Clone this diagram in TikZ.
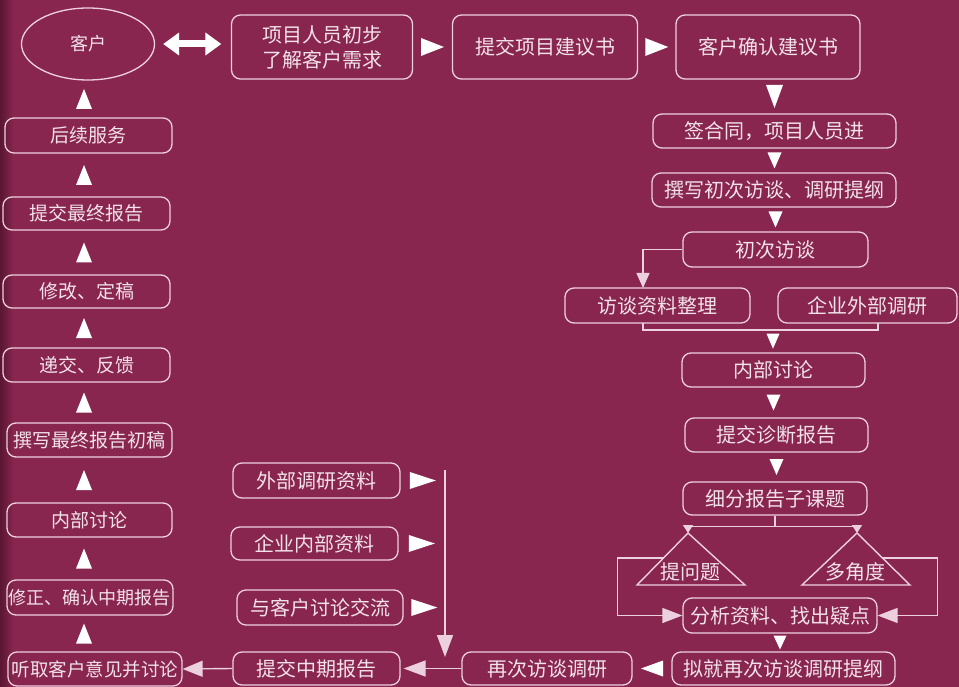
\documentclass[tikz,border=0pt]{standalone}
\usepackage{fontspec}
\setmainfont{Noto Sans CJK SC}
\usetikzlibrary{arrows.meta,decorations.markings,shapes.geometric,calc}
\definecolor{bg}{RGB}{137,38,80}
\definecolor{bgd}{RGB}{90,22,50}
\definecolor{fg}{RGB}{242,226,234}
\definecolor{bd}{RGB}{236,208,222}
\begin{document}
\begin{tikzpicture}[x=1pt,y=-1pt,
  box/.style={draw=bd, rounded corners=9pt, line width=1.3pt, inner sep=0pt,
    text=fg, font=\fontsize{20}{25}\selectfont, align=center},
  bx/.style 2 args={box, minimum width=#1pt, minimum height=#2pt},
  lc/.style={font=\fontsize{19}{22}\selectfont},
  ln/.style={draw=bd, line width=1.4pt},
  mtri/.style 2 args={decoration={markings, mark=at position 0.5 with
    {\fill[white] ({-#1*0.5pt},{-#2*0.5pt}) -- ({#1*0.5pt},0pt) -- ({-#1*0.5pt},{#2*0.5pt}) -- cycle;}},
    postaction={decorate}},
  tlabel/.style={text=fg, font=\fontsize{20}{24}\selectfont, inner sep=0pt}
]
\useasboundingbox (0,0) rectangle (959,687);
\fill[bg] (0,0) rectangle (959,687);
\shade[left color=bgd, right color=bg] (0,0) rectangle (14,687);

% top row
\node[draw=bd, line width=1.3pt, ellipse, minimum width=133pt, minimum height=72pt,
  inner sep=0pt, text=fg, font=\fontsize{18}{22}\selectfont] (kehu) at (88,44) {客户};
\node[bx={181}{64}] (xm) at (322,47) {项目人员初步\\了解客户需求};
\node[bx={185}{64}] (tj) at (545,47) {提交项目建议书};
\node[bx={184}{64}] (qr) at (768,47) {客户确认建议书};

% right column
\node[bx={243}{34}] (qht) at (774.5,131) {签合同，项目人员进};
\node[bx={244}{34}] (zx) at (774,190) {撰写初次访谈、调研提纲};
\node[bx={185}{35}] (cf) at (775.5,249.5) {初次访谈};
\node[bx={185}{35}] (fz) at (657.5,305.5) {访谈资料整理};
\node[bx={179}{35}] (qw) at (867.5,305.5) {企业外部调研};
\node[bx={183}{34}] (nb) at (773.5,370) {内部讨论};
\node[bx={183}{34}] (zd) at (776.5,435) {提交诊断报告};
\node[bx={184}{33}] (xf) at (775,498.5) {细分报告子课题};
\node[bx={194}{35}] (fx) at (780,615.5) {分析资料、找出疑点};
\node[bx={223}{33}] (nj) at (783.5,668.5) {拟就再次访谈调研提纲};

% middle
\node[bx={170}{33}] (zc) at (547,668.5) {再次访谈调研};
\node[bx={167}{33}] (zq) at (316.5,668.5) {提交中期报告};
\node[bx={167}{35}] (wb) at (316.5,480.5) {外部调研资料};
\node[bx={167}{33}] (qn) at (314.5,543.5) {企业内部资料};
\node[bx={166}{35}] (ykh) at (320,607.5) {与客户讨论交流};

% left column
\node[bx={174}{34}, font=\fontsize{18.5}{22}\selectfont] (tq) at (95,669) {听取客户意见并讨论};
\node[bx={166}{35}, font=\fontsize{18}{22}\selectfont] (xz) at (90,597.5) {修正、确认中期报告};
\node[bx={165}{34}, lc] (nbl) at (89.5,520) {内部讨论};
\node[bx={165}{34}, lc] (zg) at (89.5,440) {撰写最终报告初稿};
\node[bx={167}{34}, lc] (dj) at (86.5,365) {递交、反馈};
\node[bx={167}{33}, lc] (xg) at (86.5,291.5) {修改、定稿};
\node[bx={167}{33}, lc] (tz) at (86.5,213.5) {提交最终报告};
\node[bx={167}{35}, lc] (hx) at (88.5,135.5) {后续服务};

% triangles
\coordinate (a1) at (688,533);
\coordinate (t1l) at (637,585);
\coordinate (t1r) at (745,585);
\coordinate (a2) at (857,533);
\coordinate (t2l) at (802,585);
\coordinate (t2r) at (910,585);
\draw[ln, line join=miter] (a1) -- (t1l) -- (t1r) -- cycle;
\draw[ln, line join=miter] (a2) -- (t2l) -- (t2r) -- cycle;
\node[tlabel] (tw) at (690,572) {提问题};
\node[tlabel] (dj2) at (855,572) {多角度};

% connectors top row
\draw[white, line width=7pt, {Triangle[width=22pt,length=16pt]}-{Triangle[width=22pt,length=16pt]},
  shorten <=8pt, shorten >=9.5pt] (kehu.east) -- (kehu.east -| xm.west);
\path[mtri={23}{18}] (xm.east) -- (tj.west);
\path[mtri={23}{18}] (tj.east) -- (qr.west);

% right column connectors
\path[mtri={23}{17}] (qht.north |- qr.south) -- (qht.north);
\path[mtri={16}{14}] (qht.south) -- (qht.south |- zx.north);
\path[mtri={16}{14}] (cf.north |- zx.south) -- (cf.north);
\coordinate (fzin) at (643,288);
\draw[ln, -{Triangle[width=13pt,length=15pt]}] (cf.west) -| (fzin);
\coordinate (bl) at (643,323);
\coordinate (br) at (878,323);
\coordinate (bj) at (773,330);
\draw[ln] (bl) |- (bj) -| (br);
\path[mtri={15}{13}] (bj) -- (bj |- nb.north);
\path[mtri={16}{14}] (nb.south) -- (nb.south |- zd.north);
\path[mtri={16}{14}] (zd.south) -- (zd.south |- xf.north);
\draw[ln, -{Triangle[width=10pt,length=8pt]}] (xf.south) -- ++(0,11) -| (a1);
\draw[ln, -{Triangle[width=10pt,length=8pt]}] (xf.south) -- ++(0,11) -| (a2);
\draw[ln, -{Triangle[width=15pt,length=20pt]}] ($(a1)!0.48!(t1l)$) -- ++(-46,0) |- (fx.west);
\draw[ln, -{Triangle[width=15pt,length=20pt]}] ($(a2)!0.48!(t2r)$) -- ++(55,0) |- (fx.east);
\path[mtri={14}{13}] (fx.south) -- (fx.south |- nj.north);
\path[mtri={22}{16}] (nj.west) -- (zc.east);

% middle connectors
\draw[ln, -{Triangle[width=16pt,length=22pt]}, shorten >=3pt] (zc.west) -- (zq.east);
\draw[ln, -{Triangle[width=16pt,length=20pt]}] (zq.west) -- (tq.east);
\coordinate (vt) at (445,470);
\coordinate (vb) at (445,657);
\draw[ln, -{Triangle[width=16pt,length=22pt]}] (vt) -- (vb);
\path[mtri={26}{17}] (wb.east) -- (wb.east -| vt);
\path[mtri={26}{17}] (qn.east) -- (qn.east -| vt);
\path[mtri={26}{17}] (ykh.east) -- (ykh.east -| vt);

% left column connectors
\coordinate (colx) at (84,0);
\path[mtri={20}{16}] (tq.north -| colx) -- (xz.south -| colx);
\path[mtri={20}{16}] (xz.north -| colx) -- (nbl.south -| colx);
\path[mtri={20}{16}] (nbl.north -| colx) -- (zg.south -| colx);
\path[mtri={20}{16}] (zg.north -| colx) -- (dj.south -| colx);
\path[mtri={20}{16}] (dj.north -| colx) -- (xg.south -| colx);
\path[mtri={20}{16}] (xg.north -| colx) -- (tz.south -| colx);
\path[mtri={20}{16}] (tz.north -| colx) -- (hx.south -| colx);
\path[mtri={20}{16}] (hx.north -| colx) -- (kehu.south -| colx);
\end{tikzpicture}
\end{document}
